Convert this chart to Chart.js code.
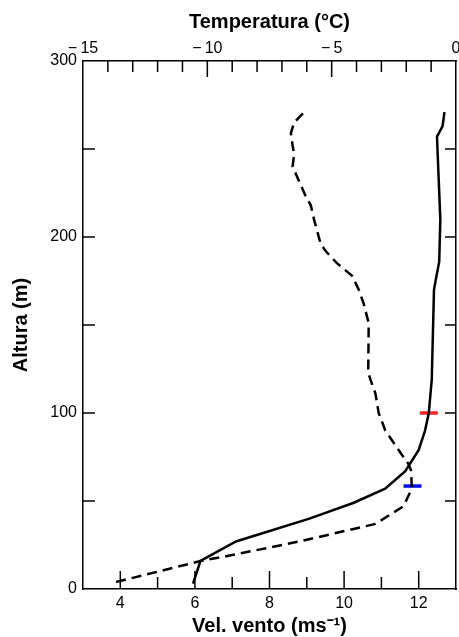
<!DOCTYPE html>
<html>
<head>
<meta charset="utf-8">
<script src="https://cdn.jsdelivr.net/npm/chart.js@4.4.1/dist/chart.umd.min.js"></script>
<style>
  html, body { margin: 0; padding: 0; background: #fff; }
  canvas { display: block; }
</style>
</head>
<body>
<canvas id="chart" width="459" height="637"></canvas>
<script>
// wind speed profile (solid line, bottom axis)
const windSpeed = [5.95, 6.15, 7.1, 9.07, 10.26, 11.1, 11.64, 12.0, 12.17, 12.27, 12.35, 12.41, 12.46, 12.55, 12.58, 12.49, 12.64, 12.69];
const windHeight = [3, 16, 27, 40, 49, 57, 67, 79, 90, 100, 119, 170, 176, 186, 210, 257, 263, 271];

// temperature profile (dashed line, top axis)
const tempValues = [-13.67, -10.24, -9.1, -6.3, -3.24, -2.11, -1.78, -1.8, -1.91, -2.31, -2.84, -3.11, -3.24, -3.44, -3.53, -3.51, -3.71, -3.91, -4.18, -4.78, -5.24, -5.44, -5.71, -5.84, -6.04, -6.57, -6.51, -6.57, -6.64, -6.51, -6.11];
const tempHeight = [4, 16, 19, 27, 37, 47, 57, 67, 71, 79, 90, 100, 111, 119, 123, 151, 162, 170, 178, 185, 192, 196, 210, 218, 223, 240, 247, 252, 259, 265, 271];

// marked levels
const redMarkWind = [12.27];
const redMarkHeight = [100];
const blueMarkTemp = [-1.75];
const blueMarkHeight = [58.5];

// labelled ticks
const windLabels = [4, 6, 8, 10, 12];
const tempLabels = [-15, -10, -5, 0];
const heightLabels = [0, 100, 200, 300];

const FONT = "'Liberation Sans', Arial, Helvetica, sans-serif";

function toPoints(xs, ys) {
  return xs.map((v, i) => ({ x: v, y: ys[i] }));
}

// ticks pointing into the plot, long for labelled values
const innerTicks = {
  id: "innerTicks",
  afterDraw(chart) {
    const ctx = chart.ctx;
    const area = chart.chartArea;
    const { x, x2, y } = chart.scales;
    ctx.save();
    ctx.strokeStyle = "#000";
    ctx.lineWidth = 1.5;
    ctx.beginPath();
    x.ticks.forEach((t) => {
      if (t.value <= x.min || t.value >= x.max) return;
      const px = x.getPixelForValue(t.value);
      const len = windLabels.includes(t.value) ? 18 : 12;
      ctx.moveTo(px, area.bottom);
      ctx.lineTo(px, area.bottom - len);
    });
    x2.ticks.forEach((t) => {
      if (t.value <= x2.min || t.value >= x2.max) return;
      const px = x2.getPixelForValue(t.value);
      const len = tempLabels.includes(t.value) ? 16 : 11;
      ctx.moveTo(px, area.top);
      ctx.lineTo(px, area.top + len);
    });
    y.ticks.forEach((t) => {
      if (t.value <= y.min || t.value >= y.max) return;
      const py = y.getPixelForValue(t.value);
      ctx.moveTo(area.left, py);
      ctx.lineTo(area.left + 12, py);
      ctx.moveTo(area.right, py);
      ctx.lineTo(area.right - 11, py);
    });
    ctx.stroke();
    ctx.restore();
  },
};

const axisBorder = { display: true, color: "#000", width: 1.5 };
const noGrid = { display: false, drawTicks: false };
const tickFont = { family: FONT, size: 16 };
const titleFont = { family: FONT, size: 20, weight: "bold", lineHeight: 1 };

// fixed axis sizes, no extra side padding for edge labels
function fixHeight(h) {
  return (s) => { s.height = h; s.paddingLeft = 0; s.paddingRight = 0; };
}
function fixWidth(w) {
  return (s) => { s.width = w; s.paddingTop = 0; s.paddingBottom = 0; };
}

new Chart(document.getElementById("chart"), {
  type: "scatter",
  data: {
    datasets: [
      {
        data: toPoints(windSpeed, windHeight),
        xAxisID: "x",
        yAxisID: "y",
        showLine: true,
        borderColor: "#000",
        borderWidth: 2.5,
        pointRadius: 0,
      },
      {
        data: toPoints(tempValues, tempHeight),
        xAxisID: "x2",
        yAxisID: "y",
        showLine: true,
        borderColor: "#000",
        borderWidth: 2.5,
        borderDash: [10, 6],
        pointRadius: 0,
      },
      {
        data: toPoints(redMarkWind, redMarkHeight),
        xAxisID: "x",
        yAxisID: "y",
        pointStyle: "line",
        pointRadius: 9,
        pointBorderWidth: 3.5,
        pointBorderColor: "#ff2020",
        borderColor: "#ff2020",
      },
      {
        data: toPoints(blueMarkTemp, blueMarkHeight),
        xAxisID: "x2",
        yAxisID: "y",
        pointStyle: "line",
        pointRadius: 9,
        pointBorderWidth: 3.5,
        pointBorderColor: "#0010ff",
        borderColor: "#0010ff",
      },
    ],
  },
  options: {
    responsive: false,
    animation: false,
    layout: { padding: 0, autoPadding: false },
    plugins: { legend: { display: false }, tooltip: { enabled: false } },
    scales: {
      x: {
        type: "linear",
        position: "bottom",
        min: 3,
        max: 13,
        grid: noGrid,
        border: axisBorder,
        ticks: {
          stepSize: 1,
          autoSkip: false,
          maxRotation: 0,
          padding: 5,
          color: "#000",
          font: tickFont,
          callback: (v) => (windLabels.includes(v) ? String(v) : ""),
        },
        title: {
          display: true,
          text: "Vel. vento (ms\u207B\u00B9)",
          color: "#000",
          font: titleFont,
          padding: { top: 0, bottom: 0.5 },
        },
        afterFit: fixHeight(48),
      },
      x2: {
        type: "linear",
        position: "top",
        min: -15,
        max: 0,
        grid: noGrid,
        border: axisBorder,
        ticks: {
          stepSize: 1,
          autoSkip: false,
          maxRotation: 0,
          padding: 2.5,
          color: "#000",
          font: tickFont,
          callback: (v) => {
            if (!tempLabels.includes(v)) return "";
            return v < 0 ? "\u2212\u2009" + Math.abs(v) : String(v);
          },
        },
        title: {
          display: true,
          text: "Temperatura (°C)",
          color: "#000",
          font: titleFont,
          padding: { top: 12, bottom: 0 },
        },
        afterFit: fixHeight(61),
      },
      y: {
        type: "linear",
        position: "left",
        min: 0,
        max: 300,
        grid: noGrid,
        border: axisBorder,
        ticks: {
          stepSize: 50,
          autoSkip: false,
          padding: 6,
          color: "#000",
          font: tickFont,
          callback: (v) => (heightLabels.includes(v) ? String(v) : ""),
        },
        title: {
          display: true,
          text: "Altura (m)",
          color: "#000",
          font: titleFont,
          padding: { top: 11, bottom: 0 },
        },
        afterFit: fixWidth(83),
      },
      y2: {
        type: "linear",
        position: "right",
        min: 0,
        max: 300,
        grid: noGrid,
        border: axisBorder,
        ticks: { display: false, stepSize: 50 },
        afterFit: fixWidth(3),
      },
    },
  },
  plugins: [innerTicks],
});
</script>
</body>
</html>
